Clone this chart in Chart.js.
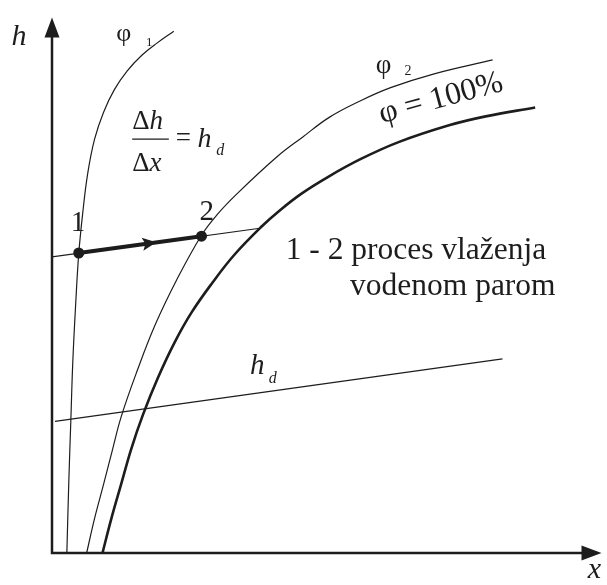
<!DOCTYPE html>
<html>
<head>
<meta charset="utf-8">
<script src="https://cdn.jsdelivr.net/npm/chart.js@4.4.1/dist/chart.umd.min.js"></script>
<style>
  html, body { margin: 0; padding: 0; background: #fff; }
  #wrap { width: 607px; height: 585px; position: relative; }
</style>
</head>
<body>
<div id="wrap"><canvas id="hx-chart"></canvas></div>
<script>
// h-x diagram, x = moisture content, h = enthalpy (schematic units from the origin)
const phi1X = [15, 17, 19, 21, 24, 27, 31, 36, 43, 52, 63, 76, 91, 106, 123];
const phi1H = [0, 73, 133, 193, 253, 302, 343, 383, 418, 445, 468, 487, 503, 515, 527];

const phi2X = [35, 43, 52, 61, 70, 86, 104, 126, 151, 167, 187, 227, 253, 280, 310, 342, 386, 445];
const phi2H = [0, 35, 69, 104, 138, 184, 230, 276, 321, 342, 363, 400, 420, 440, 456, 470, 484, 498];

const satX = [51, 60, 70, 80, 92, 107, 124, 141, 162, 184, 212, 230, 252, 279, 312, 350, 401, 438, 488];
const satH = [0, 35, 70, 105, 140, 177, 213, 243, 273, 301, 330, 346, 363, 380, 398, 415, 432, 441, 450];

// lines of constant direction  Δh/Δx = h_d
const hdUpperX = [0, 210];
const hdUpperH = [299, 328];
const hdLowerX = [3, 455];
const hdLowerH = [133, 196];

// humidification by steam: state 1 -> state 2
const processX = [27, 151];
const processH = [303, 320];
const processLabels = ["1", "2"];

const xMax = 555;
const hMax = 553;

const ink = "#1d1d1d";
const serif = "'Liberation Serif', 'DejaVu Serif', serif";

function pts(xs, ys) {
  return xs.map((x, i) => ({ x: x, y: ys[i] }));
}

function lineSet(xs, ys, width, smooth) {
  return {
    data: pts(xs, ys),
    showLine: true,
    borderColor: ink,
    borderWidth: width,
    pointRadius: 0,
    tension: smooth ? 0.4 : 0,
    fill: false,
  };
}

// axes with arrow heads, drawn through the scales so they sit on x = 0 and h = 0
const axesPlugin = {
  id: "axes",
  beforeDatasetsDraw(chart) {
    const { ctx, scales } = chart;
    const x0 = scales.x.getPixelForValue(0);
    const y0 = scales.y.getPixelForValue(0);
    const xEnd = scales.x.getPixelForValue(xMax);
    const yEnd = scales.y.getPixelForValue(541);
    ctx.save();
    ctx.strokeStyle = ink;
    ctx.fillStyle = ink;
    ctx.lineWidth = 2.5;
    ctx.beginPath();
    ctx.moveTo(x0, yEnd + 15);
    ctx.lineTo(x0, y0);
    ctx.lineTo(xEnd - 15, y0);
    ctx.stroke();
    ctx.beginPath();
    ctx.moveTo(x0, yEnd);
    ctx.lineTo(x0 - 7.5, yEnd + 20);
    ctx.lineTo(x0 + 7.5, yEnd + 20);
    ctx.closePath();
    ctx.fill();
    ctx.beginPath();
    ctx.moveTo(xEnd, y0);
    ctx.lineTo(xEnd - 20, y0 - 7.5);
    ctx.lineTo(xEnd - 20, y0 + 7.5);
    ctx.closePath();
    ctx.fill();
    ctx.restore();
  },
};

// arrow head on the middle of the 1-2 process line
const processArrow = {
  id: "processArrow",
  afterDatasetsDraw(chart) {
    const { ctx, scales } = chart;
    const ax = scales.x.getPixelForValue(processX[0]);
    const ay = scales.y.getPixelForValue(processH[0]);
    const bx = scales.x.getPixelForValue(processX[1]);
    const by = scales.y.getPixelForValue(processH[1]);
    const ang = Math.atan2(by - ay, bx - ax);
    const tx = ax + (bx - ax) * 0.6;
    const ty = ay + (by - ay) * 0.6;
    ctx.save();
    ctx.translate(tx, ty);
    ctx.rotate(ang);
    ctx.fillStyle = ink;
    ctx.beginPath();
    ctx.moveTo(4, 0);
    ctx.lineTo(-10, -6.5);
    ctx.lineTo(-7, 0);
    ctx.lineTo(-10, 6.5);
    ctx.closePath();
    ctx.fill();
    ctx.restore();
  },
};

// text labels in data units; each label is a run of [text, italic] parts
const texts = [
  { parts: [["h", true]], x: -41, y: 513, size: 30 },
  { parts: [["x", true]], x: 541, y: -25, size: 30 },
  { parts: [["φ", false]], x: 65, y: 517, size: 26 },
  { parts: [["1", false]], x: 95, y: 512, size: 13 },
  { parts: [["φ", false]], x: 327, y: 485, size: 27 },
  { parts: [["2", false]], x: 356, y: 483, size: 14 },
  { parts: [[processLabels[0], false]], x: 19, y: 325, size: 29 },
  { parts: [[processLabels[1], false]], x: 149, y: 336, size: 29 },
  { parts: [["1 - 2 proces vlaženja", false]], x: 236, y: 297, size: 31.5 },
  { parts: [["vodenom parom", false]], x: 301, y: 261, size: 31.5 },
  { parts: [["h", true]], x: 200, y: 181, size: 29 },
  { parts: [["d", true]], x: 219, y: 172, size: 16 },
  { parts: [["φ = 100%", false]], x: 333, y: 434, size: 32, rot: -15 },
  // Δh / Δx = h_d
  { parts: [["Δ", false], ["h", true]], x: 81, y: 428, size: 27 },
  { parts: [["Δ", false], ["x", true]], x: 81, y: 386, size: 27 },
  { parts: [["=", false]], x: 125, y: 411, size: 27 },
  { parts: [["h", true]], x: 147, y: 410, size: 28 },
  { parts: [["d", true]], x: 166, y: 402, size: 16 },
];

const textPlugin = {
  id: "texts",
  afterDraw(chart) {
    const { ctx, scales } = chart;
    ctx.save();
    ctx.fillStyle = ink;
    ctx.textBaseline = "alphabetic";
    ctx.textAlign = "left";
    texts.forEach((o) => {
      const px = scales.x.getPixelForValue(o.x);
      const py = scales.y.getPixelForValue(o.y);
      ctx.save();
      ctx.translate(px, py);
      if (o.rot) ctx.rotate((o.rot * Math.PI) / 180);
      let cx = 0;
      o.parts.forEach(([t, italic]) => {
        ctx.font = (italic ? "italic " : "") + o.size + "px " + serif;
        ctx.fillText(t, cx, 0);
        cx += ctx.measureText(t).width;
      });
      ctx.restore();
    });
    // fraction bar
    const bx0 = scales.x.getPixelForValue(81);
    const bx1 = scales.x.getPixelForValue(118);
    const by = scales.y.getPixelForValue(418);
    ctx.strokeStyle = ink;
    ctx.lineWidth = 1.3;
    ctx.beginPath();
    ctx.moveTo(bx0, by);
    ctx.lineTo(bx1, by);
    ctx.stroke();
    ctx.restore();
  },
};

const ctx = document.getElementById("hx-chart").getContext("2d");

new Chart(ctx, {
  type: "scatter",
  data: {
    datasets: [
      lineSet(phi1X, phi1H, 1.2, true),
      lineSet(phi2X, phi2H, 1.2, true),
      lineSet(satX, satH, 2.6, true),
      lineSet(hdUpperX, hdUpperH, 1.2, false),
      lineSet(hdLowerX, hdLowerH, 1.2, false),
      lineSet(processX, processH, 4, false),
      {
        data: pts(processX, processH),
        showLine: false,
        pointRadius: 5.5,
        pointBackgroundColor: ink,
        pointBorderColor: ink,
        pointBorderWidth: 0,
      },
    ],
  },
  options: {
    responsive: true,
    maintainAspectRatio: false,
    animation: false,
    layout: { padding: { left: 52, bottom: 32, top: 0, right: 0 } },
    plugins: {
      legend: { display: false },
      tooltip: { enabled: false },
    },
    scales: {
      x: { type: "linear", min: 0, max: xMax, display: false },
      y: { type: "linear", min: 0, max: hMax, display: false },
    },
  },
  plugins: [axesPlugin, processArrow, textPlugin],
});
</script>
</body>
</html>
